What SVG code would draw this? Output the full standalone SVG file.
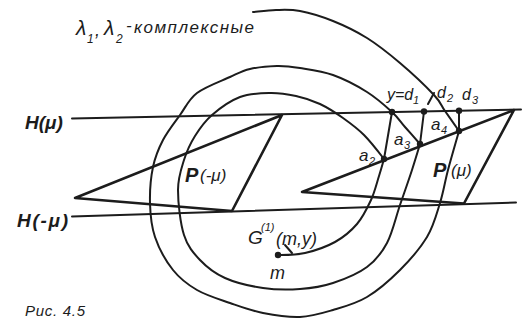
<svg xmlns="http://www.w3.org/2000/svg" width="528" height="322" viewBox="0 0 528 322">
<style>
.ln{fill:none;stroke:#1c1c1c;stroke-width:2;stroke-linecap:round;stroke-linejoin:round}
.tri{fill:none;stroke:#1c1c1c;stroke-width:2.6;stroke-linejoin:round}
.dot{fill:#1c1c1c}
.t{font-family:"Liberation Sans",Arial,sans-serif;font-style:italic;fill:#1c1c1c}
.b{font-weight:bold}
</style>
<rect width="528" height="322" fill="#ffffff"/>
<g id="connectors">
<line class="ln" x1="72" y1="118.5" x2="521" y2="109.5"/>
<line class="ln" x1="72" y1="216.5" x2="516" y2="202.5"/>
<path class="ln" d="M278,255 S295.5,255.2 305,253 S326.3,246.8 335,242 S351,231 357,224 S367.3,208 371,200 S376.8,182.8 379,176 S383.2,161.8 384,159"/>
<path class="ln" d="M384,159 S370.8,141.8 364,135 S350.3,123.2 343,118 S327.8,107.7 320,104 S304.3,97.8 296,96 S279.3,92.8 270,93 S249.7,93.3 240,97 S219.5,108.5 212,115 S199.7,128.5 195,136 S186.8,151 184,160 S178,177.5 178,190 S180.3,223.3 184,235 S193.2,252.8 200,260 S214.5,273.3 225,278 S250.5,286.2 263,288 S288.3,289.8 300,289 S321.8,286.7 333,283 S358,273.7 367,267 S381.5,253.3 387,243 S395.8,217.2 400,205 S408.7,180.2 412,170 S418.7,148.3 420,144"/>
<path class="ln" d="M420,144 S409.7,132.3 405,127 S398.3,117.8 392,112 S376.8,98.2 367,92 S344.2,79 333,75 S309.3,69.5 300,68 S285.3,65.8 277,66 S257.8,67.2 250,69 S238.8,73 230,77 S205.3,86.7 197,93 S185.7,107.2 180,115 S167.5,131.3 163,140 S155.2,156.5 153,167 S149.7,191.3 150,203 S151.2,225.8 155,237 S166,261.2 173,270 S187.5,284.5 197,290 S219,299.2 230,303 S251.3,310.7 263,313 S288.3,317.5 300,317 S321.8,313.3 333,310 S355.8,303.7 367,297 S390,280 400,270 S420.3,248.2 427,237 S436.5,214.2 440,203 S444.8,182 448,170 S457.2,137.5 459,131"/>
<path class="ln" d="M459,131 S449.2,117 445,111 S441.5,103 434,95 S411.2,72.5 400,63 S378.2,45 367,38 S344.2,25.5 333,21 S309.5,12.8 300,11 S283.8,9.8 276,10 S256.8,11.7 253,12"/>
<line class="ln" x1="384" y1="159" x2="392" y2="112"/>
<line class="ln" x1="420" y1="144" x2="424" y2="111.5"/>
<line class="ln" x1="459" y1="131" x2="459" y2="110.8"/>
<line class="ln" x1="428" y1="104" x2="434" y2="93" stroke-width="1.5"/>
<line class="ln" x1="285" y1="245" x2="292" y2="253" stroke-width="1.5"/>
</g>
<g id="P_minus">
<path class="tri" d="M75,198 L282,115 L232,211 Z"/>
<text class="t b" x="185" y="182" font-size="20">P</text>
<text class="t" x="200" y="181" font-size="17">(-μ)</text>
</g>
<g id="P_plus">
<path class="tri" d="M302,192 L514,110 L464,203.5 Z"/>
<text class="t b" x="433" y="177" font-size="20">P</text>
<text class="t" x="451" y="176" font-size="17">(μ)</text>
</g>
<g id="H_plus"><text class="t b" x="25" y="129" font-size="19">H(μ)</text></g>
<g id="H_minus"><text class="t b" x="17" y="227" font-size="19" textLength="51">H(-μ)</text></g>
<g id="points">
<circle class="dot" cx="392" cy="112" r="3.2"/>
<circle class="dot" cx="424" cy="111.5" r="3.2"/>
<circle class="dot" cx="459" cy="110.8" r="3.2"/>
<circle class="dot" cx="384" cy="159" r="3.2"/>
<circle class="dot" cx="420" cy="144" r="3.2"/>
<circle class="dot" cx="459" cy="131" r="3.2"/>
<circle class="dot" cx="278" cy="255" r="3.2"/>
</g>
<g id="labels">
<text class="t" x="387" y="100" font-size="16">y=d</text>
<text class="t" x="413" y="104" font-size="11">1</text>
<text class="t" x="437" y="98" font-size="16">d</text>
<text class="t" x="447" y="102" font-size="11">2</text>
<text class="t" x="462" y="100" font-size="16">d</text>
<text class="t" x="472" y="104" font-size="11">3</text>
<text class="t" x="359" y="161" font-size="17">a</text>
<text class="t" x="369" y="165" font-size="11">2</text>
<text class="t" x="394" y="145" font-size="17">a</text>
<text class="t" x="404" y="149" font-size="11">3</text>
<text class="t" x="431" y="130" font-size="17">a</text>
<text class="t" x="441" y="134" font-size="11">4</text>
<text class="t" x="248" y="244" font-size="19">G</text>
<text class="t" x="261" y="231" font-size="11">(1)</text>
<text class="t" x="276" y="245" font-size="18">(m,y)</text>
<text class="t" x="270" y="279" font-size="18">m</text>
<text class="t" x="76" y="35" font-size="21">λ</text>
<text class="t" x="87" y="43" font-size="12">1</text>
<text class="t" x="95" y="36" font-size="18">,</text>
<text class="t" x="104" y="35" font-size="21">λ</text>
<text class="t" x="116" y="43" font-size="12">2</text>
<text class="t" x="126" y="31" font-size="17">-</text>
<text class="t" x="134" y="33" font-size="17" textLength="120">комплексные</text>
<text class="t" x="25" y="316" font-size="15" textLength="60">Рис. 4.5</text>
</g>
</svg>
